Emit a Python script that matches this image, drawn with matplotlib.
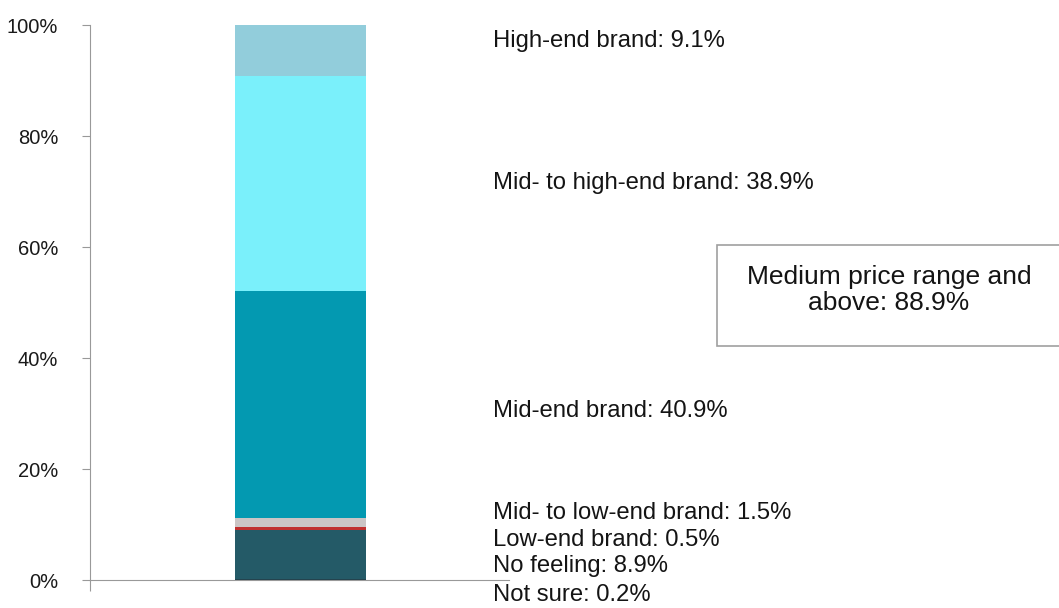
import matplotlib.pyplot as plt
from matplotlib.patches import Rectangle

# shares from bottom to top of the stacked bar (percent)
categories = ["Not sure", "No feeling", "Low-end brand", "Mid- to low-end brand",
              "Mid-end brand", "Mid- to high-end brand", "High-end brand"]
shares = [0.2, 8.9, 0.5, 1.5, 40.9, 38.9, 9.1]
colors = ["#1E3F4A", "#245A67", "#C0302F", "#CBC5C5", "#0399B1", "#7AF0FB", "#92CDDB"]

# where each label sits (y in percent units)
label_y = [-2.7, 2.5, 7.2, 12.1, 30.5, 71.5, 97.1]

yticks = [0, 20, 40, 60, 80, 100]
box_text = "Medium price range and\nabove: 88.9%"

plt.rcParams['font.family'] = ['Liberation Sans', 'DejaVu Sans']

fig = plt.figure(figsize=(10.59, 6.08), dpi=100)
ax = fig.add_axes([0.085, 0.046, 0.3957, 0.9128])

bottom = 0
for name, val, col in zip(categories, shares, colors):
    ax.bar(0.502, val, width=0.3126, bottom=bottom, color=col, linewidth=0)
    bottom += val

ax.set_xlim(0, 1)
ax.set_ylim(0, 100)
ax.set_yticks(yticks)
ax.set_yticklabels([f"{t}%" for t in yticks], fontsize=14.5, color="#1a1a1a")
ax.set_xticks([0])
ax.set_xticklabels([""])
ax.tick_params(axis='y', direction='out', length=6, color='#999999', pad=17)
ax.tick_params(axis='x', direction='out', length=8, color='#999999')

for side in ['top', 'right']:
    ax.spines[side].set_visible(False)
ax.spines['left'].set_color('#999999')
ax.spines['bottom'].set_color('#999999')

for name, val, y in zip(categories, shares, label_y):
    ax.text(0.962, y, f"{name}: {val}%", fontsize=17.2, color="#141414",
            va='center', ha='left', clip_on=False)

# summary box on the right
fig.patches.append(Rectangle((717 / 1059, 1 - 346 / 608), 0.34, 101 / 608,
                             transform=fig.transFigure, facecolor='white',
                             edgecolor='#A0A0A0', linewidth=1.2))
fig.text(889 / 1059, 1 - 290 / 608, box_text, fontsize=19, ha='center',
         va='center', color="#141414", linespacing=1.15)

plt.savefig("out.png", dpi=100)
